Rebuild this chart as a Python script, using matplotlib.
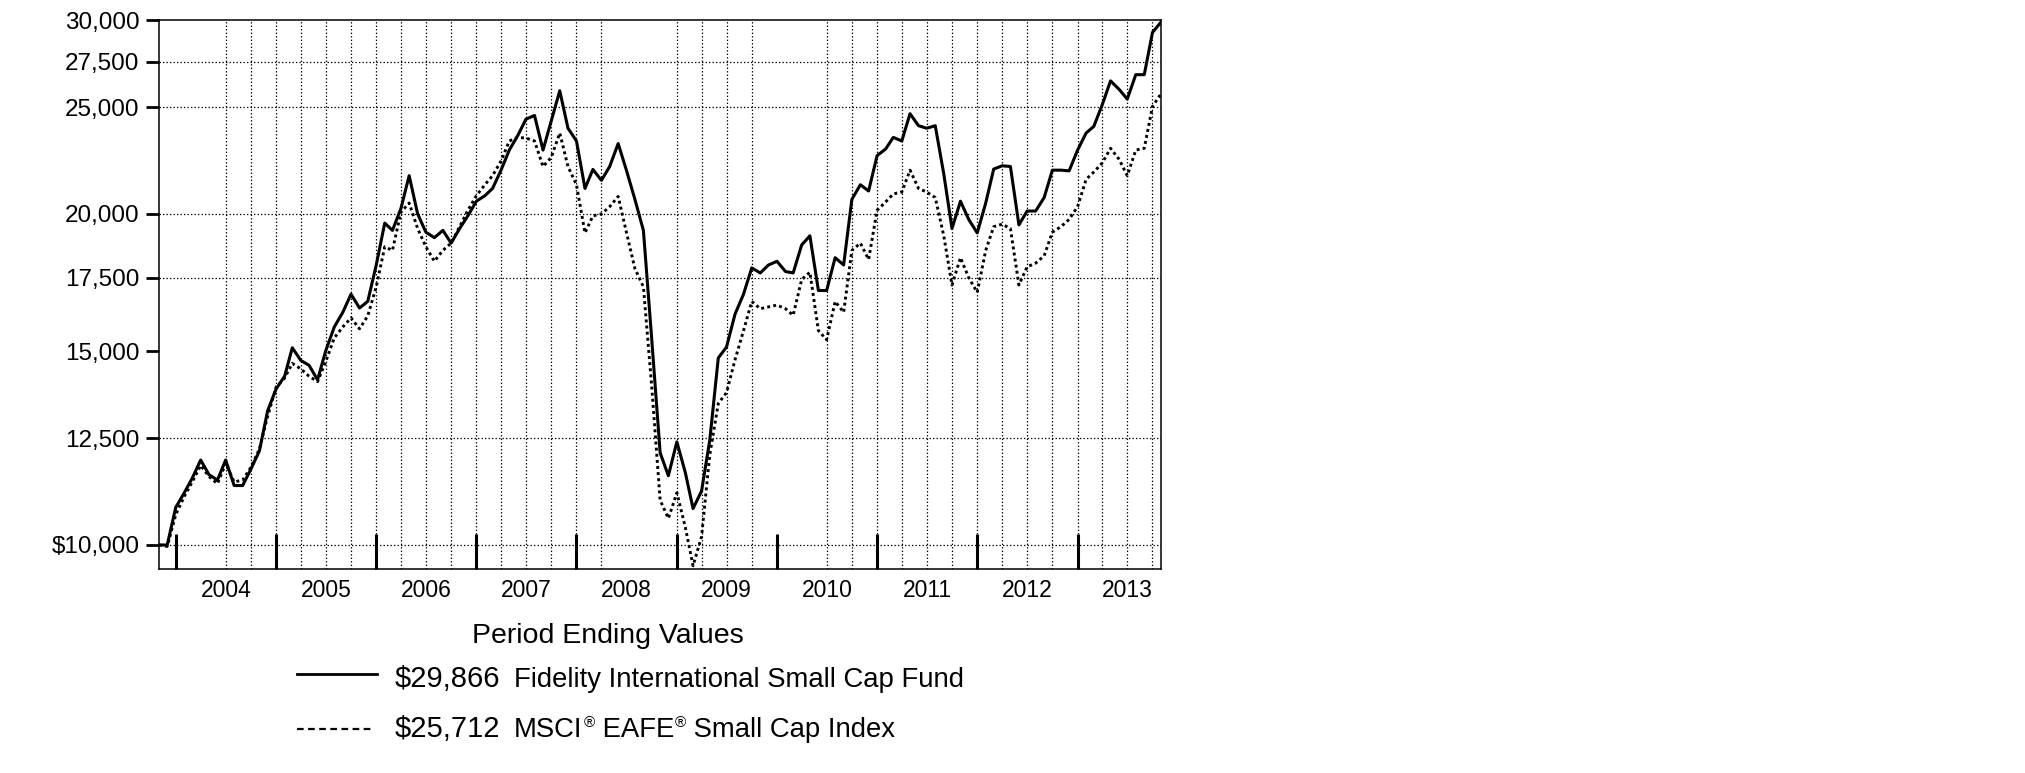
"""
Growth of $10,000 chart: Fidelity International Small Cap Fund vs MSCI EAFE Small Cap Index
"""
import matplotlib
matplotlib.use('Agg')
import matplotlib.pyplot as plt
from matplotlib.lines import Line2D
from matplotlib.ticker import NullLocator, NullFormatter
import pandas as pd

plt.rcParams['font.family'] = ['Liberation Sans', 'DejaVu Sans']

# monthly period-end values, Oct 2003 .. Oct 2013
months = pd.date_range('2003-10-31', '2013-10-31', freq='ME')

fund = [
    10000, 10000, 10818,                                                   # 2003
    11153, 11498, 11946, 11587, 11455, 11946, 11325, 11325, 11720, 12176, 13241, 13862,  # 2004
    14237, 15110, 14712, 14566, 14129, 15018, 15781, 16271, 16903, 16420, 16648, 17967,  # 2005
    19614, 19316, 20222, 21660, 19992, 19243, 19025, 19316, 18808, 19390, 19914, 20533,  # 2006
    20769, 21089, 21911, 22851, 23559, 24381, 24567, 22851, 24288, 25873, 23920, 23290,  # 2007
    21089, 21944, 21447, 22078, 23164, 21911, 20612, 19316, 15425, 12129, 11560, 12410,  # 2008
    11631, 10793, 11195, 12457, 14790, 15133, 16209, 16903, 17858, 17669, 17967, 18106,  # 2009
    17723, 17669, 18737, 19098, 17032, 17032, 18244, 17967, 20612, 21251, 20976, 22589,  # 2010
    22900, 23467, 23290, 24659, 24046, 23920, 24046, 21743, 19390, 20533, 19764, 19214,  # 2011
    20455, 21960, 22112, 22078, 19540, 20115, 20115, 20690, 21911, 21911, 21878, 22851,  # 2012
    23682, 24010, 25133, 26411, 25953, 25424, 26757, 26757, 29233, 29866,                # 2013
]

index = [
    10000, 9970, 10654,
    11068, 11411, 11810, 11542, 11368, 11855, 11411, 11455, 11765, 12222, 13091, 13915,
    14182, 14623, 14456, 14237, 14075, 14678, 15425, 15781, 16085, 15721, 16147, 17164,
    18666, 18524, 20068, 20455, 19390, 18666, 18106, 18524, 18808, 19465, 20145, 20769,
    21251, 21660, 22333, 23290, 23467, 23431, 23290, 22078, 22503, 23682, 22078, 21251,
    19214, 19914, 19992, 20300, 20738, 19243, 17831, 17164, 13968, 10984, 10573, 11153,
    10373, 9574, 10177, 12083, 13445, 13756, 14734, 15661, 16648, 16395, 16458, 16521,
    16395, 16172, 17427, 17696, 15661, 15365, 16648, 16271, 18524, 18808, 18175, 20145,
    20500, 20848, 20928, 21911, 21089, 20928, 20690, 19098, 17229, 18244, 17494, 16967,
    18524, 19465, 19569, 19390, 17229, 17898, 18036, 18313, 19243, 19465, 19764, 20300,
    21494, 21826, 22247, 22937, 22417, 21660, 22851, 22937, 25037, 25712,
]

y_ticks = [10000, 12500, 15000, 17500, 20000, 25000, 27500, 30000]
y_labels = ['$10,000', '12,500', '15,000', '17,500', '20,000', '25,000', '27,500', '30,000']
y_grid = [10000, 12500, 17500, 20000, 25000, 27500]
years = list(range(2004, 2014))
no_grid = ['2003-12', '2004-03', '2008-06', '2008-09', '2009-12', '2010-03']

fund_end = '$29,866'
index_end = '$25,712'
fund_name = 'Fidelity International Small Cap Fund'

W, H = 2025, 773
fig = plt.figure(figsize=(W / 100, H / 100), dpi=100, facecolor='white')
ax = fig.add_axes([159 / W, 1 - 569 / H, 1002 / W, 549 / H])

# grid (dotted), drawn first so the lines sit on top
grid_style = dict(color='black', lw=0.9, linestyle=(0, (1.1, 1.7)), zorder=1)
for v in y_grid:
    ax.axhline(v, **grid_style)
quarters = pd.date_range('2003-12-31', '2013-09-30', freq='QE')
for q in quarters:
    if q.strftime('%Y-%m') not in no_grid:
        ax.axvline(q, **grid_style)

ax.plot(months, fund, color='black', lw=2.2, zorder=3)
ax.plot(months, index, color='black', lw=2.1, linestyle=(0, (1, 1.1)), zorder=2)

ax.set_yscale('log')
ax.set_ylim(9510, 30000)
ax.set_yticks(y_ticks)
ax.set_yticklabels(y_labels)
ax.yaxis.set_minor_locator(NullLocator())
ax.yaxis.set_minor_formatter(NullFormatter())
ax.tick_params(axis='y', direction='out', length=9.5, width=2, pad=4.5, labelsize=17.5)

ax.set_xlim(months[0], months[-1])
ax.set_xticks([pd.Timestamp(f'{y - 1}-12-31') for y in years])
ax.set_xticklabels([])
ax.set_xticks([pd.Timestamp(f'{y}-07-01') for y in years], minor=True)
ax.set_xticklabels([str(y) for y in years], minor=True)
ax.tick_params(axis='x', which='major', direction='in', length=25, width=2.2)
ax.tick_params(axis='x', which='minor', length=0, pad=7, labelsize=16.5)

for s in ax.spines.values():
    s.set_linewidth(1.1)

# legend block below the chart
def px(x, y):
    return x / W, 1 - y / H

fig.text(*px(608, 643), 'Period Ending Values', ha='center', va='baseline', fontsize=20.5)

fig.add_artist(Line2D([297 / W, 377 / W], [1 - 674 / H] * 2, color='black', lw=2.0))
fig.add_artist(Line2D([297 / W, 374 / W], [1 - 729 / H] * 2, color='black', lw=1.6,
                      linestyle=(0, (3, 2))))

fig.text(*px(395, 687), fund_end, va='baseline', fontsize=21)
fig.text(*px(514, 687), fund_name, va='baseline', fontsize=19.8)
fig.text(*px(395, 737), index_end, va='baseline', fontsize=21)

fig.canvas.draw()
renderer = fig.canvas.get_renderer()
x_cur = 514
for piece, sup in [('MSCI', False), ('®', True), (' EAFE', False), ('®', True),
                   (' Small Cap Index', False)]:
    if sup:
        t = fig.text(*px(x_cur + 1, 727), piece, va='baseline', fontsize=11)
    else:
        t = fig.text(*px(x_cur, 737), piece, va='baseline', fontsize=19.8)
    x_cur = t.get_window_extent(renderer=renderer).x1

fig.savefig('out.png', dpi=100, facecolor='white')
